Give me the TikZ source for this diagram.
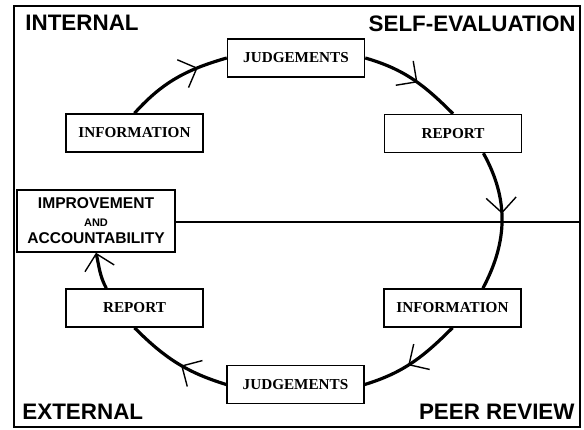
\documentclass[tikz,border=0pt]{standalone}
\usepackage{fontspec}
\setmainfont{Liberation Serif}
\setsansfont{Liberation Sans}
\usetikzlibrary{arrows.meta,decorations.markings}

\begin{document}
\begin{tikzpicture}[
x=0.5pt, y=0.5pt,
stagebox/.style={draw, line width=0.75pt, fill=white, align=center, minimum width=68.5pt, minimum height=19pt, inner sep=0pt, font=\bfseries\fontsize{7.6}{9}\selectfont},
goalbox/.style={draw, line width=0.75pt, fill=white, align=center, minimum width=79pt, minimum height=31pt, inner sep=0pt, font=\sffamily\bfseries\fontsize{7.8}{8.8}\selectfont},
corner/.style={inner sep=0pt, font=\sffamily\bfseries\fontsize{11.2}{13}\selectfont},
loop/.style={line width=1.6pt},
barb/.style={-{Straight Barb[length=7.5pt,width=15pt,line width=0.7pt]}},
midbarb/.style={postaction={decorate, decoration={markings, mark=at position #1 with {\arrow{Straight Barb[length=7.5pt,width=15pt,line width=0.7pt]}}}}}
]
\useasboundingbox (0,0) rectangle (584,429);
\draw[line width=0.75pt] (14,2) rectangle (580,423);

\node[corner, anchor=north west] (internal) at (25,414) {INTERNAL};
\node[corner, anchor=north east] (selfeval) at (576,414) {SELF-EVALUATION};
\node[corner, anchor=south west] (external) at (22,9) {EXTERNAL};
\node[corner, anchor=south east] (peer) at (575,9) {PEER REVIEW};

\node[stagebox] (judgT) at (296,371) {JUDGEMENTS};
\node[stagebox] (reportR) at (453,295.5) {REPORT};
\node[stagebox] (infoR) at (452.5,121) {INFORMATION};
\node[stagebox] (judgB) at (295.5,44.5) {JUDGEMENTS};
\node[stagebox] (reportL) at (134.5,121) {REPORT};
\node[stagebox] (infoL) at (134.5,296) {INFORMATION};
\node[goalbox] (goal) at (96,208) {IMPROVEMENT\\{\fontsize{5.5}{8}\selectfont AND}\\ACCOUNTABILITY};

\coordinate (divR) at (580,207);
\draw[line width=0.7pt] (goal.east |- divR) -- (divR);

\draw[loop, midbarb=0.72] (infoL.north) to[out=48, in=196] (judgT.west);
\draw[loop, midbarb=0.55] (judgT.east) to[out=-16, in=135] (reportR.north);
\draw[loop, midbarb=0.45] (reportR.-33) to[out=-61, in=62] (infoR.33);
\draw[loop, midbarb=0.55] (infoR.south) to[out=-135, in=17] (judgB.east);
\draw[loop, midbarb=0.45] (judgB.west) to[out=163, in=-45] (reportL.south);
\draw[loop, barb] (reportL.145) to[out=118, in=-77] (goal.south);
\end{tikzpicture}
\end{document}
